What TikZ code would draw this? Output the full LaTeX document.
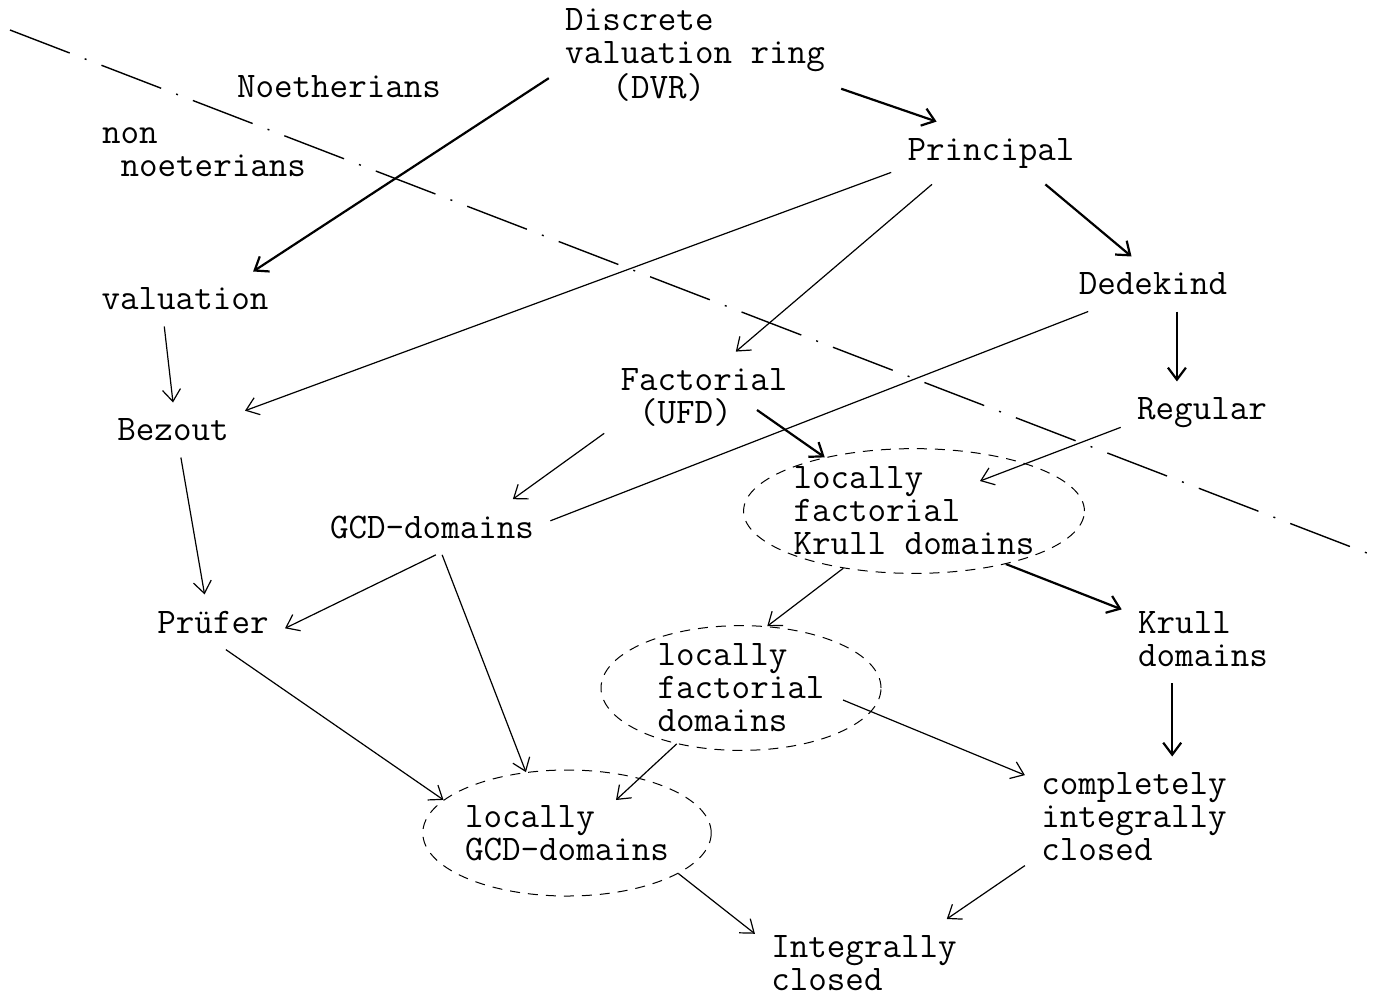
\documentclass[tikz,border=0pt]{standalone}
\usepackage{fontspec}
\usetikzlibrary{shapes.geometric,arrows.meta}

\tikzset{
  ringnode/.style={font=\ttfamily\fontsize{18pt}{16.5pt}\selectfont, align=left, inner sep=8pt},
  blob/.style={ringnode, ellipse, draw, dash pattern=on 5pt off 4pt, line width=0.5pt, inner sep=0pt},
  arr/.style={-{Straight Barb[length=6pt,width=9pt]}, line width=0.6pt},
  arrthick/.style={arr, line width=1.1pt},
  divider/.style={line width=0.7pt, dash pattern=on 32pt off 8pt on 1pt off 8pt}
}

\begin{document}
\begin{tikzpicture}[x=0.5pt, y=-0.5pt]
\useasboundingbox (0,0) rectangle (1379,996);

% dividing line
\coordinate (sepA) at (10,30);
\coordinate (sepB) at (1372,555);
\draw[divider] (sepA) -- (sepB);

\node[ringnode] (noeth) at (339,87) {Noetherians};
\node[ringnode] (nonnoeth) at (204,152) {non\\\ noeterians};

% rings
\node[ringnode] (dvr) at (695,55) {Discrete\\valuation ring\\\hspace*{1.3125em}(DVR)};
\node[ringnode] (prin) at (991,153) {Principal};
\node[ringnode] (val) at (185,299) {valuation};
\node[ringnode] (ded) at (1153,284) {Dedekind};
\node[ringnode] (fact) at (704,397) {Factorial\\\ (UFD)};
\node[ringnode] (reg) at (1202,413) {Regular};
\node[ringnode] (bez) at (173,430) {Bezout};
\node[ringnode] (gcd) at (432,527) {GCD-domains};
\node[ringnode] (pru) at (213,622) {Prüfer};
\node[ringnode] (krull) at (1203,639) {Krull\\domains};
\node[ringnode] (cic) at (1134,817) {completely\\integrally\\closed};
\node[ringnode] (ic) at (864,963) {Integrally\\closed};

\node[blob] (lfk) at (914,511) {locally\\factorial\\Krull domains};
\node[blob, minimum width=140pt] (lfd) at (741,688) {locally\\factorial\\domains};
\node[blob, minimum height=63pt] (lgcd) at (567,833) {locally\\GCD-domains};

% arrows
\draw[arrthick] (dvr.189) -- (val.22);
\draw[arrthick] (dvr.347) -- (prin.150);
\draw[arr] (prin.191) -- (bez.15);
\draw[arr] (prin.208) -- (fact.55);
\draw[arrthick] (prin.330) -- (ded.128);
\draw[arr] (val.233) -- (bez.90);
\draw[arrthick] (ded.311) -- (ded.311 |- reg.north);
\draw[line width=0.6pt] (ded.203) -- (gcd.3);
\draw[arr] (fact.200) -- (gcd.19);
\draw[arrthick] ([shift={(53,13)}]fact.center) -- (lfk.149);
\draw[arr] (reg.190) -- ([shift={(66,-30)}]lfk.center);
\draw[arr] (bez.286) -- (pru.107);
\draw[arr] (gcd.278) -- (pru.355);
\draw[arr] (gcd.290) -- (lgcd.124);
\draw[arr] (lfk.219) -- (lfd.67);
\draw[arrthick] (lfk.330) -- (krull.160);
\draw[arr] (pru.295) -- (lgcd.165);
\draw[arr] (lfd.221) -- ([shift={(49,-33)}]lgcd.center);
\draw[arr] ([shift={(102,12)}]lfd.center) -- (cic.159);
\draw[arrthick] (krull.235) -- (krull.235 |- cic.north);
\draw[arr] (cic.204) -- (ic.28);
\draw[arr] (lgcd.340) -- (ic.165);
\end{tikzpicture}
\end{document}
